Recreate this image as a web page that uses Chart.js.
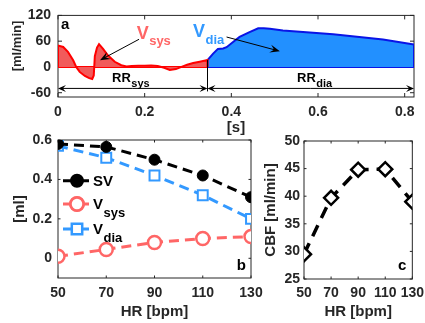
<!DOCTYPE html>
<html><head><meta charset="utf-8">
<script src="https://cdn.jsdelivr.net/npm/chart.js@4/dist/chart.umd.min.js"></script>
<style>
html,body{margin:0;padding:0;background:#fff;width:425px;height:323px;overflow:hidden}
.box{position:absolute}
canvas{display:block}
</style></head><body>
<div class="box" style="left:0;top:0"><canvas id="ca" width="425" height="140"></canvas></div>
<div class="box" style="left:0;top:125px"><canvas id="cb" width="275" height="198"></canvas></div>
<div class="box" style="left:250px;top:125px"><canvas id="cc" width="180" height="198"></canvas></div>
<script>
// ---------- data ----------
// panel a: flow waveform [ml/min] vs time [s]
const tSys = [0, 0.012, 0.023, 0.035, 0.042, 0.05, 0.062, 0.072, 0.079, 0.0825, 0.085, 0.09, 0.0947, 0.104, 0.115, 0.131, 0.146, 0.158, 0.17, 0.185, 0.2, 0.215, 0.23, 0.245, 0.258, 0.272, 0.285, 0.298, 0.312, 0.327, 0.345];
const vSys = [50, 46.5, 35, 15.6, 0, -11.6, -21, -26, -28, -20, 25, 45, 53, 42, 27, 12, 4, 1, 2, 3, 2.5, 3.5, 2, -2, -7, -5, 0, 5, 9, 12, 16];
const tDia = [0.345, 0.358, 0.369, 0.381, 0.389, 0.404, 0.419, 0.442, 0.462, 0.475, 0.489, 0.519, 0.635, 0.75, 0.8215];
const vDia = [16, 31, 42, 43, 46, 58, 70, 81, 90, 90, 89, 85, 76, 64, 52];
const ticksAx = [0, 0.2, 0.4, 0.6, 0.8];
const ticksAy = [-60, 0, 60, 120];
// panel b / c: vs heart rate
const hr = [50, 70, 90, 110, 130];
const sv = [0.58, 0.565, 0.50, 0.42, 0.31];
const vsysVol = [0.01, 0.045, 0.08, 0.10, 0.11];
const vdiaVol = [0.57, 0.51, 0.42, 0.32, 0.20];
const cbf = [29.5, 39.7, 44.8, 44.9, 39.0];
const ticksHR = [50, 70, 90, 110, 130];
const ticksBy = [0, 0.2, 0.4, 0.6];
const ticksCy = [25, 30, 35, 40, 45, 50];

// ---------- helpers ----------
const FF = '"Liberation Sans", Arial, Helvetica, sans-serif';
const INK = '#262626';
const fixSize = n => s => { if (s.isHorizontal()) s.height = n; else s.width = n; };
const setTicks = arr => s => { s.ticks = arr.map(v => ({value: v})); };
const tickFont = {family: FF, size: 14, weight: 'bold'};
const titleFont = {family: FF, size: 15, weight: 'bold'};

const boxPlugin = {
  id: 'mbox',
  beforeDatasetsDraw(chart, args, opts) {
    const {ctx, chartArea: {left, top, right, bottom}, scales: {x, y}} = chart;
    const L = opts.len || 3;
    ctx.save();
    ctx.strokeStyle = INK; ctx.lineWidth = 1;
    ctx.beginPath();
    x.ticks.forEach(t => { const p = x.getPixelForValue(t.value);
      ctx.moveTo(p, bottom); ctx.lineTo(p, bottom - L); ctx.moveTo(p, top); ctx.lineTo(p, top + L); });
    y.ticks.forEach(t => { const p = y.getPixelForValue(t.value);
      ctx.moveTo(left, p); ctx.lineTo(left + L, p); ctx.moveTo(right, p); ctx.lineTo(right - L, p); });
    ctx.stroke();
    ctx.strokeRect(left, top, right - left, bottom - top);
    ctx.restore();
  }
};

function subText(ctx, x, y, main, sub, ms, ss, color, dy) {
  ctx.save();
  ctx.fillStyle = color; ctx.textAlign = 'left'; ctx.textBaseline = 'alphabetic';
  ctx.font = `bold ${ms}px ${FF}`;
  ctx.fillText(main, x, y);
  const w = ctx.measureText(main).width;
  ctx.font = `bold ${ss}px ${FF}`;
  ctx.fillText(sub, x + w + 0.5, y + dy);
  ctx.restore();
}
function arrow(ctx, x1, y1, x2, y2, len, hw) {
  const a = Math.atan2(y2 - y1, x2 - x1);
  ctx.beginPath(); ctx.moveTo(x1, y1); ctx.lineTo(x2 - Math.cos(a) * len * 0.6, y2 - Math.sin(a) * len * 0.6); ctx.stroke();
  ctx.beginPath();
  ctx.moveTo(x2, y2);
  ctx.lineTo(x2 - Math.cos(a) * len - Math.sin(a) * hw, y2 - Math.sin(a) * len + Math.cos(a) * hw);
  ctx.lineTo(x2 - Math.cos(a) * len * 0.6, y2 - Math.sin(a) * len * 0.6);
  ctx.lineTo(x2 - Math.cos(a) * len + Math.sin(a) * hw, y2 - Math.sin(a) * len - Math.cos(a) * hw);
  ctx.closePath(); ctx.fill();
}

// ---------- panel a ----------
const annA = {
  id: 'annA',
  afterDatasetsDraw(chart) {
    const {ctx, scales: {x, y}} = chart;
    const P = (t, v) => [x.getPixelForValue(t), y.getPixelForValue(v)];
    ctx.save();
    ctx.fillStyle = '#000'; ctx.strokeStyle = '#000'; ctx.lineWidth = 1;
    // letter
    ctx.font = `bold 15px ${FF}`; ctx.textBaseline = 'middle'; ctx.textAlign = 'left';
    ctx.fillText('a', ...P(0.007, 97));
    // labels
    subText(ctx, ...P(0.1815, 66), 'V', 'sys', 18, 13, '#FF6666', 6);
    subText(ctx, ...P(0.3115, 69), 'V', 'dia', 18, 13, '#3399FF', 7);
    // pointer arrows
    arrow(ctx, ...P(0.187, 64.4), ...P(0.0969, 15.7), 10, 4);
    arrow(ctx, ...P(0.389, 69.7), ...P(0.512, 36.6), 10, 4);
    // RR double arrows
    const tEnd = tSys[tSys.length - 1];
    const [xs, yy] = P(tSys[0], -50), [xm] = P(tEnd, -50), [xe] = P(tDia[tDia.length - 1], -50);
    ctx.beginPath(); ctx.moveTo(...P(tEnd, vSys[vSys.length - 1])); ctx.lineTo(...P(tEnd, -57)); ctx.stroke();
    arrow(ctx, (xs + xm) / 2, yy, xs, yy, 8, 3.5);
    arrow(ctx, (xs + xm) / 2, yy, xm, yy, 8, 3.5);
    arrow(ctx, (xm + xe) / 2, yy, xm, yy, 8, 3.5);
    arrow(ctx, (xm + xe) / 2, yy, xe, yy, 8, 3.5);
    subText(ctx, ...P(0.1246, -34.5), 'RR', 'sys', 13, 11, '#000', 5);
    subText(ctx, ...P(0.5515, -34.5), 'RR', 'dia', 13, 11, '#000', 5);
    // y title
    ctx.translate(17, 46); ctx.rotate(-Math.PI / 2);
    ctx.font = `bold 13px ${FF}`; ctx.textAlign = 'center'; ctx.textBaseline = 'middle'; ctx.fillStyle = INK;
    ctx.fillText('[ml/min]', 0, 0);
    ctx.restore();
  }
};
const closed = (ts, vs) => [{x: ts[0], y: 0}, ...ts.map((t, i) => ({x: t, y: vs[i]})), {x: ts[ts.length - 1], y: 0}];
new Chart(document.getElementById('ca'), {
  type: 'line',
  data: {datasets: [
    {data: closed(tSys, vSys), borderColor: '#FF0000', backgroundColor: '#F15B5B', fill: 'origin', borderWidth: 2, pointRadius: 0, tension: 0},
    {data: [{x: tSys[0], y: 0}, {x: tSys[tSys.length - 1], y: 0}], borderColor: '#FF0000', borderWidth: 2, pointRadius: 0},
    {data: closed(tDia, vDia), borderColor: '#0A14E6', backgroundColor: '#2290FF', fill: 'origin', borderWidth: 2, pointRadius: 0, tension: 0},
    {data: [{x: tDia[0], y: 0}, {x: tDia[tDia.length - 1], y: 0}], borderColor: '#0A14E6', borderWidth: 2, pointRadius: 0}
  ]},
  options: {
    responsive: false, animation: false, events: [],
    layout: {padding: {left: 0, top: 15, right: 11, bottom: 0}},
    plugins: {legend: {display: false}, tooltip: {enabled: false}, mbox: {len: 4}},
    scales: {
      x: {type: 'linear', min: 0, max: 0.8215, afterFit: fixSize(43), afterBuildTicks: setTicks(ticksAx),
          grid: {display: false, drawTicks: false}, border: {display: false},
          ticks: {font: tickFont, color: INK, padding: 6.6, maxRotation: 0},
          title: {display: true, text: '[s]', font: titleFont, color: INK, padding: {top: 0, bottom: 3.5}}},
      y: {type: 'linear', min: -70, max: 120, afterFit: fixSize(58), afterBuildTicks: setTicks(ticksAy),
          grid: {display: false, drawTicks: false}, border: {display: false},
          ticks: {font: tickFont, color: INK, padding: 7}}
    }
  },
  plugins: [boxPlugin, annA]
});

// ---------- panel b ----------
const legB = {
  id: 'legB',
  afterDatasetsDraw(chart) {
    const {ctx, chartArea: {left, top}} = chart;
    const rows = [[0, 'SV', '', 40.7], [1, 'V', 'sys', 64], [2, 'V', 'dia', 89]];
    rows.forEach(([i, m, s, dy]) => {
      const ds = chart.data.datasets[i];
      const cy = top + dy, x0 = left + 5, x1 = left + 33;
      ctx.save();
      ctx.strokeStyle = ds.borderColor; ctx.lineWidth = ds.borderWidth; ctx.setLineDash(ds.borderDash);
      ctx.beginPath(); ctx.moveTo(x0, cy); ctx.lineTo(x1, cy); ctx.stroke();
      ctx.setLineDash([]);
      Chart.helpers.drawPoint(ctx, {pointStyle: ds.pointStyle, radius: ds.pointRadius, borderWidth: ds.pointBorderWidth}, (x0 + x1) / 2, cy);
      ctx.fillStyle = ds.pointBackgroundColor; ctx.strokeStyle = ds.borderColor; ctx.lineWidth = ds.pointBorderWidth;
      ctx.restore();
      ctx.save();
      ctx.fillStyle = ds.pointBackgroundColor; ctx.strokeStyle = ds.borderColor; ctx.lineWidth = ds.pointBorderWidth;
      Chart.helpers.drawPoint(ctx, {pointStyle: ds.pointStyle, radius: ds.pointRadius, borderWidth: ds.pointBorderWidth}, (x0 + x1) / 2, cy);
      ctx.restore();
      if (s) subText(ctx, x1 + 2, cy + 5, m, s, 15, 13, '#000', 8);
      else subText(ctx, x1 + 2, cy + 5, m, '', 15, 13, '#000', 0);
    });
    ctx.save();
    ctx.font = `bold 15px ${FF}`; ctx.fillStyle = '#000'; ctx.textAlign = 'right'; ctx.textBaseline = 'middle';
    const ca = chart.chartArea;
    ctx.fillText('b', ca.right - 5, ca.bottom - 12);
    ctx.restore();
  }
};
new Chart(document.getElementById('cb'), {
  type: 'line',
  data: {labels: hr, datasets: [
    {data: hr.map((h, i) => ({x: h, y: sv[i]})), borderColor: '#000', borderWidth: 3, borderDash: [10, 6],
     pointStyle: 'circle', pointRadius: 5.5, pointBackgroundColor: '#000', pointBorderColor: '#000', pointBorderWidth: 1},
    {data: hr.map((h, i) => ({x: h, y: vsysVol[i]})), borderColor: '#FF6666', borderWidth: 3, borderDash: [10, 6],
     pointStyle: 'circle', pointRadius: 6.5, pointBackgroundColor: '#fff', pointBorderColor: '#FF6666', pointBorderWidth: 2.5},
    {data: hr.map((h, i) => ({x: h, y: vdiaVol[i]})), borderColor: '#3399FF', borderWidth: 3, borderDash: [10, 6],
     pointStyle: 'rect', pointRadius: 7, pointBackgroundColor: '#fff', pointBorderColor: '#3399FF', pointBorderWidth: 2}
  ]},
  options: {
    responsive: false, animation: false, events: [],
    layout: {padding: {left: 0, top: 15, right: 24, bottom: 0}},
    plugins: {legend: {display: false}, tooltip: {enabled: false}, mbox: {len: 2.5}},
    scales: {
      x: {type: 'linear', min: 50, max: 130, afterFit: fixSize(45), afterBuildTicks: setTicks(ticksHR),
          grid: {display: false, drawTicks: false}, border: {display: false},
          ticks: {font: tickFont, color: INK, padding: 6.6, maxRotation: 0},
          title: {display: true, text: 'HR [bpm]', font: titleFont, color: INK, padding: {top: 0, bottom: 2.3}}},
      y: {type: 'linear', min: -0.1, max: 0.6, afterFit: fixSize(58), afterBuildTicks: setTicks(ticksBy),
          grid: {display: false, drawTicks: false}, border: {display: false},
          ticks: {font: tickFont, color: INK, padding: 6},
          title: {display: true, text: '[ml]', font: titleFont, color: INK, padding: {top: 11, bottom: 0}}}
    }
  },
  plugins: [boxPlugin, legB]
});

// ---------- panel c ----------
const labC = {
  id: 'labC',
  afterDatasetsDraw(chart) {
    const {ctx, chartArea: ca} = chart;
    ctx.save();
    ctx.font = `bold 15px ${FF}`; ctx.fillStyle = '#000'; ctx.textAlign = 'right'; ctx.textBaseline = 'middle';
    ctx.fillText('c', ca.right - 6, ca.bottom - 13);
    ctx.restore();
  }
};
new Chart(document.getElementById('cc'), {
  type: 'line',
  data: {datasets: [
    {data: hr.map((h, i) => ({x: h, y: cbf[i]})), borderColor: '#000', borderWidth: 3.5, borderDash: [12, 8],
     pointStyle: 'rectRot', pointRadius: 7, pointBackgroundColor: '#fff', pointBorderColor: '#000', pointBorderWidth: 2.5}
  ]},
  options: {
    responsive: false, animation: false, events: [],
    layout: {padding: {left: 0, top: 16, right: 17, bottom: 0}},
    plugins: {legend: {display: false}, tooltip: {enabled: false}, mbox: {len: 2.5}},
    scales: {
      x: {type: 'linear', min: 50, max: 130, afterFit: fixSize(44), afterBuildTicks: setTicks(ticksHR),
          grid: {display: false, drawTicks: false}, border: {display: false},
          ticks: {font: tickFont, color: INK, padding: 6, maxRotation: 0},
          title: {display: true, text: 'HR [bpm]', font: titleFont, color: INK, padding: {top: 0, bottom: 2.3}}},
      y: {type: 'linear', min: 25, max: 50, afterFit: fixSize(54), afterBuildTicks: setTicks(ticksCy),
          grid: {display: false, drawTicks: false}, border: {display: false},
          ticks: {font: tickFont, color: INK, padding: 4},
          title: {display: true, text: 'CBF [ml/min]', font: titleFont, color: INK, padding: {top: 11.7, bottom: 0}}}
    }
  },
  plugins: [boxPlugin, labC]
});
</script>
</body></html>
